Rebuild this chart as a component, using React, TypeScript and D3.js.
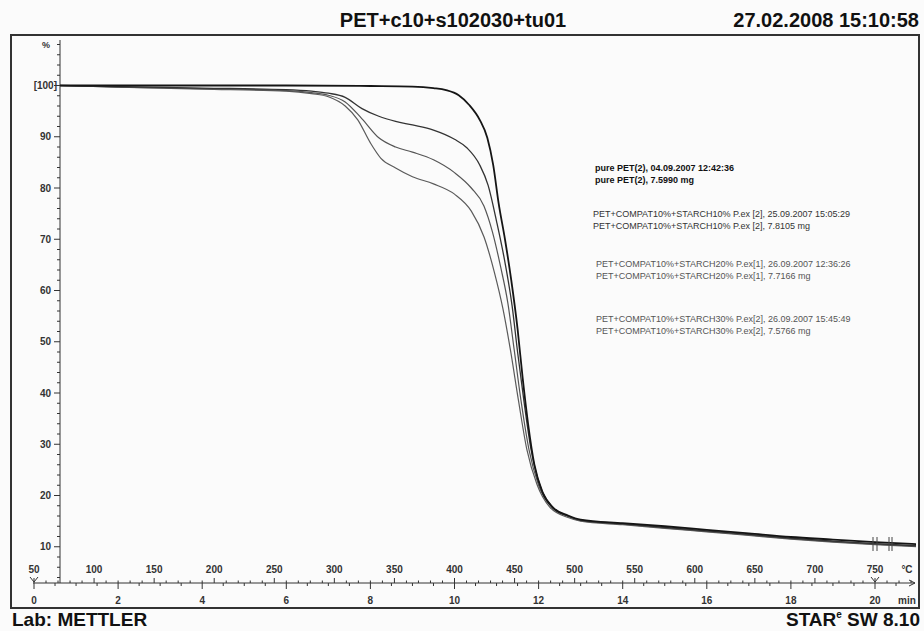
import React from "react";
import * as d3 from "d3";

// Header / footer texts
const titleText = "PET+c10+s102030+tu01";
const stampText = "27.02.2008 15:10:58";
const labText = "Lab: METTLER";

// Axis tick labels
const massTicks = [10, 20, 30, 40, 50, 60, 70, 80, 90];
const tempTicks = [50, 100, 150, 200, 250, 300, 350, 400, 450, 500, 550, 600, 650, 700, 750];
const timeTicks = [0, 2, 4, 6, 8, 10, 12, 14, 16, 18, 20];

// TGA curves: [time (min), mass (%)]
const purePET: [number, number][] = [
  [0.62, 100], [2, 100], [4, 100], [6, 100], [8, 99.9], [9, 99.8], [9.5, 99.5], [9.8, 99.1],
  [10.1, 98.1], [10.35, 96.2], [10.6, 93.3], [10.78, 89.8], [10.92, 84.5], [11.05, 77],
  [11.2, 70], [11.35, 62], [11.5, 52.5], [11.62, 43], [11.75, 34], [11.9, 26], [12.1, 20.5],
  [12.35, 17.6], [12.7, 16.1], [13, 15.3], [14, 14.6], [15, 14.0], [16, 13.3], [17, 12.6],
  [18, 11.9], [19, 11.4], [20, 10.9], [21, 10.5],
];
const starch10: [number, number][] = [
  [0.62, 100], [2, 99.8], [4, 99.5], [6, 99.2], [6.6, 98.9], [7.0, 98.5], [7.4, 97.7],
  [7.8, 95.5], [8.2, 94.0], [8.6, 93.0], [9.0, 92.3], [9.5, 91.3], [10.0, 89.5], [10.3, 87.8],
  [10.6, 84.5], [10.8, 80.5], [11.0, 73.5], [11.2, 65.5], [11.37, 57], [11.5, 48],
  [11.65, 38.5], [11.82, 29], [12.03, 22], [12.3, 18], [12.7, 16], [13, 15.2], [14, 14.5],
  [15, 13.8], [16, 13.1], [17, 12.4], [18, 11.7], [19, 11.1], [20, 10.6], [21, 10.2],
];
const starch20: [number, number][] = [
  [0.62, 100], [2, 99.7], [4, 99.4], [6, 99.0], [6.6, 98.6], [7.0, 98.1], [7.4, 96.8],
  [7.8, 93.5], [8.2, 89.8], [8.6, 88.0], [9.0, 87.0], [9.5, 85.5], [10.0, 83.0], [10.4, 80.0],
  [10.7, 76.5], [10.9, 71.5], [11.1, 64.5], [11.27, 57.5], [11.42, 48.4], [11.58, 38.6],
  [11.77, 29], [12.0, 22], [12.3, 17.8], [12.7, 15.9], [13, 15.1], [14, 14.4], [15, 13.7],
  [16, 13.0], [17, 12.3], [18, 11.6], [19, 11.0], [20, 10.5], [21, 10.1],
];
const starch30: [number, number][] = [
  [0.62, 100], [2, 99.7], [4, 99.3], [6, 98.9], [6.6, 98.4], [7.0, 97.8], [7.4, 96.0],
  [7.7, 93.3], [8.0, 88.8], [8.25, 85.8], [8.6, 83.9], [9.0, 82.2], [9.5, 80.8], [10.0, 78.8],
  [10.4, 75.5], [10.7, 70.5], [10.95, 63.5], [11.15, 56.5], [11.33, 48.4], [11.52, 38.6],
  [11.72, 29], [11.96, 22.2], [12.27, 17.7], [12.7, 15.7], [13, 15.0], [14, 14.3], [15, 13.6],
  [16, 12.9], [17, 12.2], [18, 11.5], [19, 10.9], [20, 10.4], [21, 10.0],
];

// Legend texts, one pair of lines per sample
const legendLines: string[][] = [
  ["pure PET(2), 04.09.2007 12:42:36", "pure PET(2), 7.5990 mg"],
  ["PET+COMPAT10%+STARCH10% P.ex [2], 25.09.2007 15:05:29", "PET+COMPAT10%+STARCH10% P.ex [2], 7.8105 mg"],
  ["PET+COMPAT10%+STARCH20% P.ex[1], 26.09.2007 12:36:26", "PET+COMPAT10%+STARCH20% P.ex[1], 7.7166 mg"],
  ["PET+COMPAT10%+STARCH30% P.ex[2], 26.09.2007 15:45:49", "PET+COMPAT10%+STARCH30% P.ex[2], 7.5766 mg"],
];

const W = 924;
const H = 631;
const FONT = "'Liberation Sans', Arial, sans-serif";

const series = [
  { data: purePET, color: "#151515", width: 1.8 },
  { data: starch10, color: "#333", width: 1.3 },
  { data: starch20, color: "#555", width: 1.2 },
  { data: starch30, color: "#5a5a5a", width: 1.2 },
];
const legendStyle = [
  { color: "#111", weight: 700, x: 595, y: 171 },
  { color: "#333", weight: 400, x: 593, y: 217 },
  { color: "#555", weight: 400, x: 596, y: 267 },
  { color: "#555", weight: 400, x: 596, y: 322 },
];

export default function App() {
  // time axis (min); temperature is a linear heating program 50 °C + 35 K/min
  const x = d3.scaleLinear().domain([0, 20]).range([34, 875]);
  const tempToTime = (T: number) => (T - 50) / 35;
  const y = d3.scaleLinear().domain([10, 100]).range([546.75, 85.5]);

  const axisY = 583;
  const yAxisX = 60;

  const line = d3
    .line<[number, number]>()
    .x((d) => x(d[0]))
    .y((d) => y(d[1]))
    .curve(d3.curveMonotoneX);

  const minorMass = d3.range(4, 109, 2).filter((v) => v % 10 !== 0);
  const minorTemp = d3.range(60, 781, 10).filter((v) => v % 50 !== 0);
  const minorTime = d3.range(0.5, 21, 0.5).filter((v) => v % 2 !== 0);

  return (
    <svg
      width={W}
      height={H}
      style={{ position: "absolute", left: 0, top: 0, background: "#fbfbfb" }}
      fontFamily={FONT}
    >
      <defs>
        <clipPath id="plotClip">
          <rect x={yAxisX} y={36} width={856} height={560} />
        </clipPath>
      </defs>

      {/* header */}
      <text x={453} y={27} textAnchor="middle" fontSize={20} fontWeight={700} fill="#111">
        {titleText}
      </text>
      <text x={919} y={27} textAnchor="end" fontSize={20} fontWeight={700} fill="#111">
        {stampText}
      </text>

      {/* frame */}
      <rect x={11} y={35} width={908} height={573} fill="none" stroke="#333" strokeWidth={2} />

      {/* y axis */}
      <line x1={yAxisX} x2={yAxisX} y1={40} y2={axisY} stroke="#333" strokeWidth={1} />
      {minorMass.map((v) => (
        <line key={"mm" + v} x1={yAxisX - 3} x2={yAxisX} y1={y(v)} y2={y(v)} stroke="#333" />
      ))}
      {massTicks.map((v) => (
        <g key={"mt" + v}>
          <line x1={yAxisX - 6} x2={yAxisX} y1={y(v)} y2={y(v)} stroke="#333" />
          <text x={51} y={y(v) + 3.5} textAnchor="end" fontSize={10} fontWeight={700} fill="#333">
            {v}
          </text>
        </g>
      ))}
      <line x1={yAxisX - 6} x2={yAxisX} y1={y(100)} y2={y(100)} stroke="#333" />
      <text x={57} y={y(100) + 3.5} textAnchor="end" fontSize={10} fontWeight={700} fill="#333">
        [100]
      </text>
      <text x={50} y={y(108) + 3.5} textAnchor="end" fontSize={9} fontWeight={700} fill="#333">
        %
      </text>

      {/* x axis: temperature above, time below */}
      <line x1={33} x2={915} y1={axisY} y2={axisY} stroke="#333" strokeWidth={1} />
      <path d={`M909,${axisY - 3} L915,${axisY} L909,${axisY + 3}`} fill="none" stroke="#333" />
      {minorTemp.map((T) => (
        <line key={"tm" + T} x1={x(tempToTime(T))} x2={x(tempToTime(T))} y1={axisY - 2.5} y2={axisY} stroke="#333" />
      ))}
      {tempTicks.map((T) => (
        <g key={"tt" + T}>
          <line x1={x(tempToTime(T))} x2={x(tempToTime(T))} y1={axisY - 5} y2={axisY} stroke="#333" />
          <text x={x(tempToTime(T))} y={573} textAnchor="middle" fontSize={10} fontWeight={700} fill="#333">
            {T}
          </text>
        </g>
      ))}
      {minorTime.map((t) => (
        <line key={"im" + t} x1={x(t)} x2={x(t)} y1={axisY} y2={axisY + 3} stroke="#333" />
      ))}
      {timeTicks.map((t) => (
        <g key={"it" + t}>
          <line x1={x(t)} x2={x(t)} y1={axisY} y2={axisY + 6} stroke="#333" />
          <text x={x(t)} y={604} textAnchor="middle" fontSize={10} fontWeight={700} fill="#333">
            {t}
          </text>
        </g>
      ))}
      {/* start / end markers of the temperature program */}
      {[0, 20].map((t) => (
        <path
          key={"ym" + t}
          d={`M${x(t) - 4},${axisY - 6} L${x(t)},${axisY - 1} L${x(t) + 4},${axisY - 6}`}
          fill="none"
          stroke="#333"
        />
      ))}
      <text x={907} y={573} textAnchor="middle" fontSize={10} fontWeight={700} fill="#333">
        °C
      </text>
      <text x={907} y={604} textAnchor="middle" fontSize={10} fontWeight={700} fill="#333">
        min
      </text>

      {/* curves */}
      <g clipPath="url(#plotClip)">
        {series
          .slice()
          .reverse()
          .map((s, i) => (
            <path key={"c" + i} d={line(s.data) || ""} fill="none" stroke={s.color} strokeWidth={s.width} />
          ))}
      </g>
      {/* segment end marks */}
      {[873, 877, 889, 892].map((px) => (
        <line key={"em" + px} x1={px} x2={px} y1={537} y2={551} stroke="#444" strokeWidth={1} />
      ))}

      {/* legend */}
      {legendLines.map((pair, i) => (
        <g key={"lg" + i}>
          {pair.map((txt, j) => (
            <text
              key={j}
              x={legendStyle[i].x}
              y={legendStyle[i].y + j * 12}
              fontSize={9}
              fontWeight={legendStyle[i].weight}
              fill={legendStyle[i].color}
            >
              {txt}
            </text>
          ))}
        </g>
      ))}

      {/* footer */}
      <text x={12} y={626} fontSize={19} fontWeight={700} fill="#111">
        {labText}
      </text>
      <text x={920} y={626} textAnchor="end" fontSize={19} fontWeight={700} fill="#111">
        STAR
        <tspan fontSize={10} dy={-8}>e</tspan>
        <tspan dy={8}> SW 8.10</tspan>
      </text>
    </svg>
  );
}
